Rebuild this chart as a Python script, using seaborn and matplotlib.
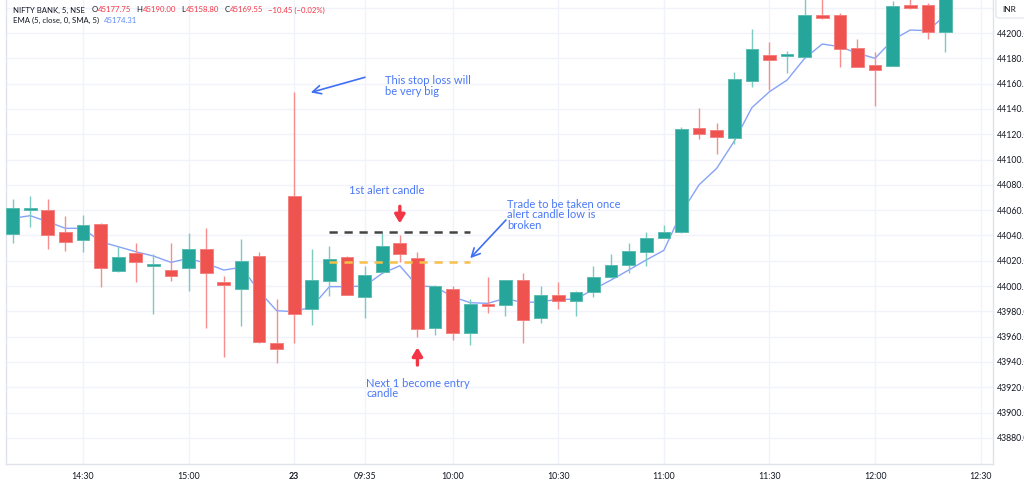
import matplotlib
matplotlib.use("Agg")
import matplotlib.pyplot as plt
from matplotlib.patches import FancyBboxPatch
import numpy as np
import pandas as pd
import seaborn as sns

# ---------------- data ----------------
candle_idx = list(range(54))
opens = [44041, 44060, 44060, 44043, 44036, 44049, 44012, 44026, 44016, 44013,
         44014, 44029, 44003, 43998, 44024, 43955, 44071, 43982, 44004, 44023,
         43991, 44011, 44034, 44022, 43967, 43998, 43963, 43986, 43985, 44005,
         43975, 43993, 43988, 43995, 44007, 44017, 44027, 44038, 44043, 44125,
         44123, 44117, 44162, 44183, 44182, 44181, 44214, 44214, 44188, 44175,
         44174, 44222, 44222, 44201]
highs = [44069, 44071, 44069, 44055, 44056, 44050, 44032, 44034, 44025, 44034,
         44042, 44046, 44008, 44037, 44027, 43990, 44153, 44029, 44032, 44024,
         44016, 44042, 44040, 44027, 44001, 44000, 43990, 44007, 44005, 44010,
         44000, 44003, 43996, 44016, 44025, 44034, 44043, 44048, 44126, 44141,
         44129, 44169, 44203, 44193, 44186, 44232, 44230, 44216, 44195, 44185,
         44225, 44230, 44224, 44240]
lows = [44034, 44047, 44029, 44028, 44027, 43999, 44011, 44003, 43978, 44004,
        43996, 43967, 43944, 43968, 43955, 43939, 43955, 43969, 43992, 43993,
        43975, 44011, 44019, 43960, 43961, 43957, 43953, 43979, 43976, 43955,
        43971, 43982, 43976, 43991, 44006, 44010, 44016, 44038, 44042, 44116,
        44104, 44112, 44157, 44155, 44168, 44180, 44211, 44173, 44173, 44142,
        44174, 44219, 44195, 44185]
closes = [44062, 44061, 44040, 44035, 44048, 44014, 44023, 44019, 44017, 44008,
          44029, 44010, 44001, 44020, 43956, 43950, 43978, 44005, 44021, 43993,
          44009, 44032, 44025, 43966, 44000, 43963, 43986, 43984, 44005, 43973,
          43993, 43988, 43995, 44007, 44017, 44028, 44038, 44043, 44124, 44120,
          44118, 44164, 44187, 44179, 44183, 44214, 44212, 44187, 44173.5, 44171,
          44221, 44220, 44201, 44235]
ema_values = [44053.5, 44055.6, 44050.8, 44045.6, 44045.6, 44035.0, 44031.1, 44027.1,
              44023.7, 44018.7, 44021.9, 44017.9, 44012.6, 44014.8, 43996.0, 43980.5,
              43979.7, 43983.6, 43999.5, 43999.5, 44000.0, 44010.0, 44016.0, 44000.0,
              43999.5, 43991.5, 43986.8, 43986.3, 43990.3, 43986.8, 43987.6, 43989.5,
              43989.5, 43997.4, 44004.7, 44012.6, 44020.6, 44028.2, 44058.0, 44080.0,
              44093.0, 44114.5, 44141.0, 44153.6, 44162.8, 44180.0, 44191.3, 44189.2,
              44184.0, 44180.0, 44194.5, 44202.4, 44201.8, 44214.2]
time_tick_pos = [4, 10, 16, 20, 25, 31, 37, 43, 49, 55]
time_tick_labels = ["14:30", "15:00", "23", "09:35", "10:00", "10:30",
                    "11:00", "11:30", "12:00", "12:30"]
price_ticks = [43880, 43900, 43920, 43940, 43960, 43980, 44000, 44020, 44040,
               44060, 44080, 44100, 44120, 44140, 44160, 44180, 44200, 44220]
hidden_price_label = 44220   # covered by the INR badge in the reference

alert_candle = 22
entry_candle = 23
big_candle = 16
alert_high_level = 44043

header_symbol = "NIFTY BANK, 5, NSE"
header_parts = [("O", "45177.75"), ("H", "45190.00"), ("L", "45158.80"), ("C", "45169.55")]
header_change = "\u221210.45 (\u22120.02%)"
header_ema = "EMA (5, close, 0, SMA, 5)"
header_ema_val = "45174.31"

# ---------------- style ----------------
sns.set_style("white")
plt.rcParams["font.family"] = ["Lato", "DejaVu Sans"]

UP = "#26a69a"
DOWN = "#ef5350"
UP_EDGE = "#5cbdb2"
DOWN_EDGE = "#f4817f"
TXT = "#131722"
GRID = "#f0f3fa"
BLUE_TXT = "#4a78f6"
RED_TXT = "#f23645"

W, H = 1024, 483
fig = plt.figure(figsize=(W / 100, H / 100), dpi=100)
fig.patch.set_facecolor("white")
ax = fig.add_axes([6 / W, 19 / H, (993 - 6) / W, 464 / H])

df = pd.DataFrame({"i": candle_idx, "open": opens, "high": highs,
                   "low": lows, "close": closes, "ema": ema_values})
df["up"] = df["close"] >= df["open"]
df["body_bottom"] = df[["open", "close"]].min(axis=1)
df["body_h"] = (df["close"] - df["open"]).abs().clip(lower=1.3)

# EMA line (behind candles)
sns.lineplot(data=df, x="i", y="ema", ax=ax, color="#86a3f8", linewidth=1.0, zorder=2)

# wicks
ax.vlines(df["i"], df["low"], df["high"],
          colors=np.where(df["up"], "#7ccbc1", "#f58e8c"), linewidth=1.0, zorder=3)
# bodies
ax.bar(df["i"], df["body_h"], bottom=df["body_bottom"], width=0.72,
       color=np.where(df["up"], UP, DOWN),
       edgecolor=np.where(df["up"], UP_EDGE, DOWN_EDGE), linewidth=0.7, zorder=4)

# axes limits / ticks
ax.set_xlim(-0.375, 55.7)
ax.set_ylim(43859.3, 44226.1)
ax.set_xticks(time_tick_pos)
ax.set_xticklabels(time_tick_labels)
for lbl in ax.get_xticklabels():
    if lbl.get_text() == "23":
        lbl.set_fontweight("bold")
ax.yaxis.tick_right()
ax.set_yticks(price_ticks)
ax.set_yticklabels(["" if v == hidden_price_label else f"{v:.2f}" for v in price_ticks])
ax.tick_params(axis="both", length=0, labelsize=6.3, labelcolor=TXT)
ax.tick_params(axis="x", pad=6)
ax.tick_params(axis="y", pad=3)
ax.grid(True, color=GRID, linewidth=1)
ax.set_axisbelow(True)
ax.set_xlabel("")
ax.set_ylabel("")
for side in ["left", "right", "bottom"]:
    ax.spines[side].set_color("#e0e3eb")
    ax.spines[side].set_linewidth(1)
ax.spines["top"].set_visible(False)

# ---------------- annotations ----------------
ax.hlines(alert_high_level, alert_candle - 4, alert_candle + 4, colors="#444444",
          linestyles=(0, (3.3, 2.7)), linewidth=1.8, zorder=5)
ax.hlines(lows[alert_candle], alert_candle - 4, alert_candle + 4, colors="#f7c04a",
          linestyles=(0, (3.3, 2.7)), linewidth=1.8, zorder=5)

red_arrow = dict(arrowstyle="-|>,head_length=0.5,head_width=0.3",
                 color=RED_TXT, lw=2.4, shrinkA=0, shrinkB=0)
ax.annotate("", xy=(alert_candle, 44049.5), xytext=(alert_candle, 44063),
            arrowprops=red_arrow, zorder=6)
ax.annotate("", xy=(entry_candle, 43951.5), xytext=(entry_candle, 43937.5),
            arrowprops=red_arrow, zorder=6)

blue_arrow = dict(arrowstyle="->,head_length=0.6,head_width=0.3",
                  color="#3f6ff5", lw=1.2, shrinkA=0, shrinkB=0)
ax.annotate("", xy=(big_candle + 0.94, highs[big_candle]), xytext=(20.02, 44165),
            arrowprops=blue_arrow, zorder=6)
ax.annotate("", xy=(26.0, 44022), xytext=(28.03, 44052.2),
            arrowprops=blue_arrow, zorder=6)

ax.text(21.16, 44166.5, "This stop loss will\nbe very big", color=BLUE_TXT,
        fontsize=8, va="top", ha="left", linespacing=1.0)
ax.text(21.27, 44075.9, "1st alert candle", color=BLUE_TXT, fontsize=8,
        va="center", ha="center")
ax.text(28.1, 44069, "Trade to be taken once\nalert candle low is\nbroken",
        color=BLUE_TXT, fontsize=8, va="top", ha="left", linespacing=0.95)
ax.text(20.1, 43927.5, "Next 1 become entry\ncandle", color=BLUE_TXT,
        fontsize=8, va="top", ha="left", linespacing=0.95)

# ---------------- header (pieces laid out one after another) ----------------
renderer = fig.canvas.get_renderer()
HFS = 5.6


def put(xp, yp, s, color):
    t = fig.text(xp / W, 1 - yp / H, s, color=color, fontsize=HFS,
                 va="center", ha="left")
    bb = t.get_window_extent(renderer=renderer)
    return bb.x1


x_end = put(12.7, 10, header_symbol, TXT)
x_cur = x_end + 7
for letter, val in header_parts:
    x_cur = put(x_cur, 10, letter, TXT) + 0.5
    x_cur = put(x_cur, 10, val, RED_TXT) + 5
put(x_cur, 10, header_change, RED_TXT)
x_end = put(12.7, 20.7, header_ema, TXT)
put(x_end + 5, 20.7, header_ema_val, "#5b8af5")

# INR badge
box = FancyBboxPatch((996 / W, 1 - 18 / H), 40 / W, 22 / H,
                     boxstyle="round,pad=0,rounding_size=0.004",
                     transform=fig.transFigure, facecolor="white",
                     edgecolor="#e0e3eb", linewidth=0.8)
fig.patches.append(box)
fig.text(1002 / W, 1 - 9.5 / H, "INR", color=TXT, fontsize=6.0, va="center", ha="left")

fig.savefig("out.png", dpi=100)
